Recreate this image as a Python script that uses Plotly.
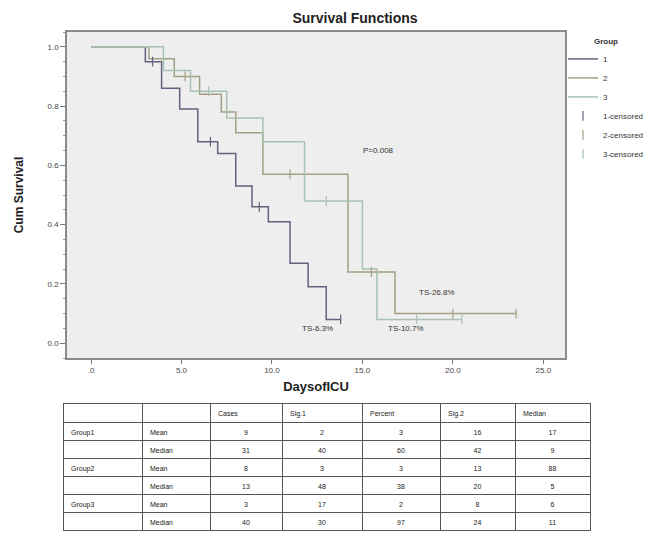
import plotly.graph_objects as go

# ---------------- data ----------------
times1 = [0, 3.0, 3.9, 4.9, 5.9, 7.0, 8.0, 8.9, 9.8, 11.0, 12.0, 13.0, 13.8]
surv1 = [1.0, 0.95, 0.86, 0.79, 0.68, 0.64, 0.53, 0.46, 0.41, 0.27, 0.19, 0.08, 0.08]
cens1_t = [3.4, 6.6, 9.3, 13.8]
cens1_s = [0.95, 0.68, 0.46, 0.08]

times2 = [0, 3.2, 4.6, 6.0, 7.2, 8.0, 9.5, 14.2, 16.8, 23.5]
surv2 = [1.0, 0.96, 0.90, 0.84, 0.78, 0.71, 0.57, 0.24, 0.10, 0.10]
cens2_t = [5.2, 11.0, 15.5, 20.0, 23.5]
cens2_s = [0.90, 0.57, 0.24, 0.10, 0.10]

times3 = [0, 4.0, 5.5, 7.5, 9.5, 11.8, 15.0, 15.8, 20.5]
surv3 = [1.0, 0.92, 0.85, 0.76, 0.68, 0.48, 0.25, 0.08, 0.08]
cens3_t = [6.5, 13.0, 18.0, 20.5]
cens3_s = [0.85, 0.48, 0.08, 0.08]

x_tickvals = [0, 5, 10, 15, 20, 25]
x_ticktext = [".0", "5.0", "10.0", "15.0", "20.0", "25.0"]
y_tickvals = [0, 0.2, 0.4, 0.6, 0.8, 1.0]
y_ticktext = ["0.0", "0.2", "0.4", "0.6", "0.8", "1.0"]

notes_text = ["P=0.008", "TS-26.8%", "TS-6.3%", "TS-10.7%"]
notes_x = [15.9, 19.1, 12.5, 17.4]
notes_y = [0.65, 0.17, 0.05, 0.05]

tbl_headers = ["", "", "Cases", "Sig.1", "Percent", "Sig.2", "Median"]
row_groups = ["Group1", "", "Group2", "", "Group3", ""]
row_stats = ["Mean", "Median", "Mean", "Median", "Mean", "Median"]
col_cases = ["9", "31", "8", "13", "3", "40"]
col_sig1 = ["2", "40", "3", "48", "17", "30"]
col_percent = ["3", "60", "3", "38", "2", "97"]
col_sig2 = ["16", "42", "13", "20", "8", "24"]
col_median = ["17", "9", "88", "5", "6", "11"]

# ---------------- styles ----------------
FONT = "Liberation Sans, Arial, sans-serif"
colors = ["#62627e", "#a39f84", "#a9c1b0"]

fig = go.Figure()

groups = [
    ("1", times1, surv1, cens1_t, cens1_s),
    ("2", times2, surv2, cens2_t, cens2_s),
    ("3", times3, surv3, cens3_t, cens3_s),
]
for i, (name, t, s, ct, cs) in enumerate(groups):
    fig.add_trace(go.Scatter(
        x=t, y=s, mode="lines", name=name,
        line=dict(color=colors[i], width=1.5, shape="hv"),
        xaxis="x", yaxis="y",
    ))
for i, (name, t, s, ct, cs) in enumerate(groups):
    fig.add_trace(go.Scatter(
        x=ct, y=cs, mode="markers", name=name + "-censored",
        marker=dict(symbol="line-ns", size=7,
                    line=dict(color=colors[i], width=1.2)),
        xaxis="x", yaxis="y",
    ))

fig.add_trace(go.Table(
    domain=dict(x=[0, 1], y=[0, 0.258]),
    columnwidth=[79, 68, 72, 80, 78, 75, 75],
    header=dict(
        values=tbl_headers,
        height=19,
        align="left",
        fill_color="white",
        line=dict(color="#555555", width=1),
        font=dict(family=FONT, size=7, color="#222222"),
    ),
    cells=dict(
        values=[row_groups, row_stats, col_cases, col_sig1,
                col_percent, col_sig2, col_median],
        height=18,
        align=["left", "left", "center", "center", "center", "center", "center"],
        fill_color="white",
        line=dict(color="#555555", width=1),
        font=dict(family=FONT, size=7, color="#222222"),
    ),
))

for txt, xv, yv in zip(notes_text, notes_x, notes_y):
    fig.add_annotation(x=xv, y=yv, xref="x", yref="y", text=txt,
                       showarrow=False, font=dict(family=FONT, size=8, color="#333333"))

fig.update_layout(
    width=662, height=534,
    margin=dict(l=55, r=80, t=24, b=10, autoexpand=False),
    paper_bgcolor="white",
    plot_bgcolor="#eeeeee",
    font=dict(family=FONT, size=8, color="#333333"),
    title=dict(text="<b>Survival Functions</b>", x=347 / 662, xref="container",
               xanchor="center", y=1 - 10 / 534, yref="container", yanchor="middle",
               font=dict(family=FONT, size=14, color="#222222")),
    xaxis=dict(
        domain=[4 / 527, 502 / 527],
        range=[-1.33, 26.2],
        tickvals=x_tickvals, ticktext=x_ticktext,
        ticks="outside", ticklen=4, tickcolor="#777777",
        showgrid=False, zeroline=False,
        showline=True, mirror=True, linecolor="#8a8a8a", linewidth=1.5,
        tickfont=dict(size=8, color="#444444"),
        title=dict(text="<b>DaysofICU</b>", standoff=8,
                   font=dict(family=FONT, size=13, color="#222222")),
        anchor="y",
    ),
    yaxis=dict(
        domain=[0.348, 1],
        range=[-0.05, 1.05],
        tickvals=y_tickvals, ticktext=y_ticktext,
        ticks="outside", ticklen=5, tickcolor="#777777",
        minor=dict(ticks="outside", ticklen=2, dtick=0.05, tickcolor="#999999"),
        showgrid=False, zeroline=False,
        showline=True, mirror=True, linecolor="#8a8a8a", linewidth=1.5,
        tickfont=dict(size=8, color="#444444"),
        title=dict(text="<b>Cum Survival</b>", standoff=21,
                   font=dict(family=FONT, size=12, color="#222222")),
        anchor="x",
    ),
    legend=dict(
        x=(555 - 55) / 527, xanchor="left", y=1 - 2 / 500, yanchor="top",
        bgcolor="rgba(0,0,0,0)",
        font=dict(family=FONT, size=8, color="#333333"),
        title=dict(text="<b>Group</b>", side="top center",
                   font=dict(family=FONT, size=8)),
        tracegroupgap=0, itemwidth=30,
    ),
    showlegend=True,
)

fig.write_html("out.html")
